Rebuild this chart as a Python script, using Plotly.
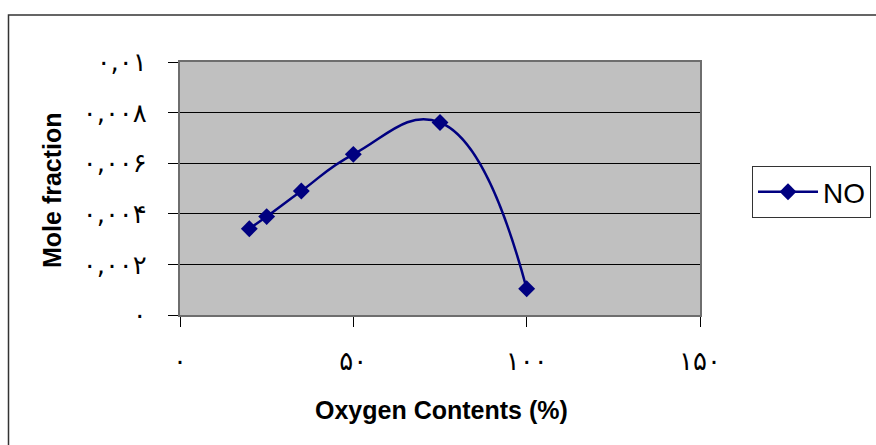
import plotly.graph_objects as go

# Data
oxygen_pct = [20, 25, 35, 50, 75, 100]
no_fraction = [0.00341, 0.00389, 0.00490, 0.00635, 0.00761, 0.00104]
series_name = "NO"

x_tick_vals = [0, 50, 100, 150]
x_tick_text = ["۰", "۵۰", "۱۰۰", "۱۵۰"]
y_tick_vals = [0, 0.002, 0.004, 0.006, 0.008, 0.01]
y_tick_text = ["۰", "۰,۰۰۲", "۰,۰۰۴", "۰,۰۰۶", "۰,۰۰۸", "۰,۰۱"]

x_title = "Oxygen Contents (%)"
y_title = "Mole fraction"

W, H = 876, 445
L, R, T, B = 180, 176, 62, 130
pw, ph = W - L - R, H - T - B


def px_to_paper_x(px):
    return (px - L) / pw


def px_to_paper_y(py):
    return (H - B - py) / ph


fig = go.Figure()
fig.add_trace(go.Scatter(
    x=oxygen_pct, y=no_fraction, name=series_name,
    mode="lines+markers",
    line=dict(color="#000080", width=2.5, shape="spline", smoothing=1.3),
    marker=dict(symbol="diamond", size=13, color="#000080"),
))

tick_font = dict(family="DejaVu Sans", size=26, color="black")
title_font = dict(family="Liberation Sans, Arial", size=25, color="black")

fig.update_layout(
    width=W, height=H,
    margin=dict(l=L, r=R, t=T, b=B, autoexpand=False),
    paper_bgcolor="white",
    plot_bgcolor="#C0C0C0",
    showlegend=True,
    legend=dict(
        x=px_to_paper_x(752), y=px_to_paper_y(166),
        xanchor="left", yanchor="top",
        bgcolor="white", bordercolor="#333333", borderwidth=1,
        font=dict(family="Liberation Sans, Arial", size=28, color="black"),
        itemwidth=60,
    ),
    xaxis=dict(
        range=[0, 150], tickmode="array", tickvals=x_tick_vals, ticktext=x_tick_text,
        showgrid=False, zeroline=False,
        showline=True, linecolor="#6e6e6e", linewidth=2, mirror=True,
        ticks="outside", ticklen=10, tickcolor="black", tickwidth=1,
        tickfont=tick_font, ticklabelstandoff=12,
    ),
    yaxis=dict(
        range=[0, 0.01], tickmode="array", tickvals=y_tick_vals, ticktext=y_tick_text,
        showgrid=True, gridcolor="black", gridwidth=1, zeroline=False,
        showline=True, linecolor="#6e6e6e", linewidth=2, mirror=True,
        ticks="outside", ticklen=10, tickcolor="black", tickwidth=1,
        tickfont=tick_font, ticklabelstandoff=16,
    ),
    annotations=[
        dict(text=f"<b>{x_title}</b>", xref="paper", yref="paper",
             x=px_to_paper_x(441), y=px_to_paper_y(410),
             xanchor="center", yanchor="middle", showarrow=False, font=title_font),
        dict(text=f"<b>{y_title}</b>", xref="paper", yref="paper",
             x=px_to_paper_x(52), y=px_to_paper_y(190), textangle=-90,
             xanchor="center", yanchor="middle", showarrow=False, font=title_font),
    ],
    shapes=[
        dict(type="rect", xref="paper", yref="paper",
             x0=px_to_paper_x(8.5), x1=px_to_paper_x(900),
             y0=px_to_paper_y(470), y1=px_to_paper_y(15),
             line=dict(color="#333333", width=1.5), fillcolor="rgba(0,0,0,0)",
             layer="below"),
    ],
)

fig.write_html("out.html")
